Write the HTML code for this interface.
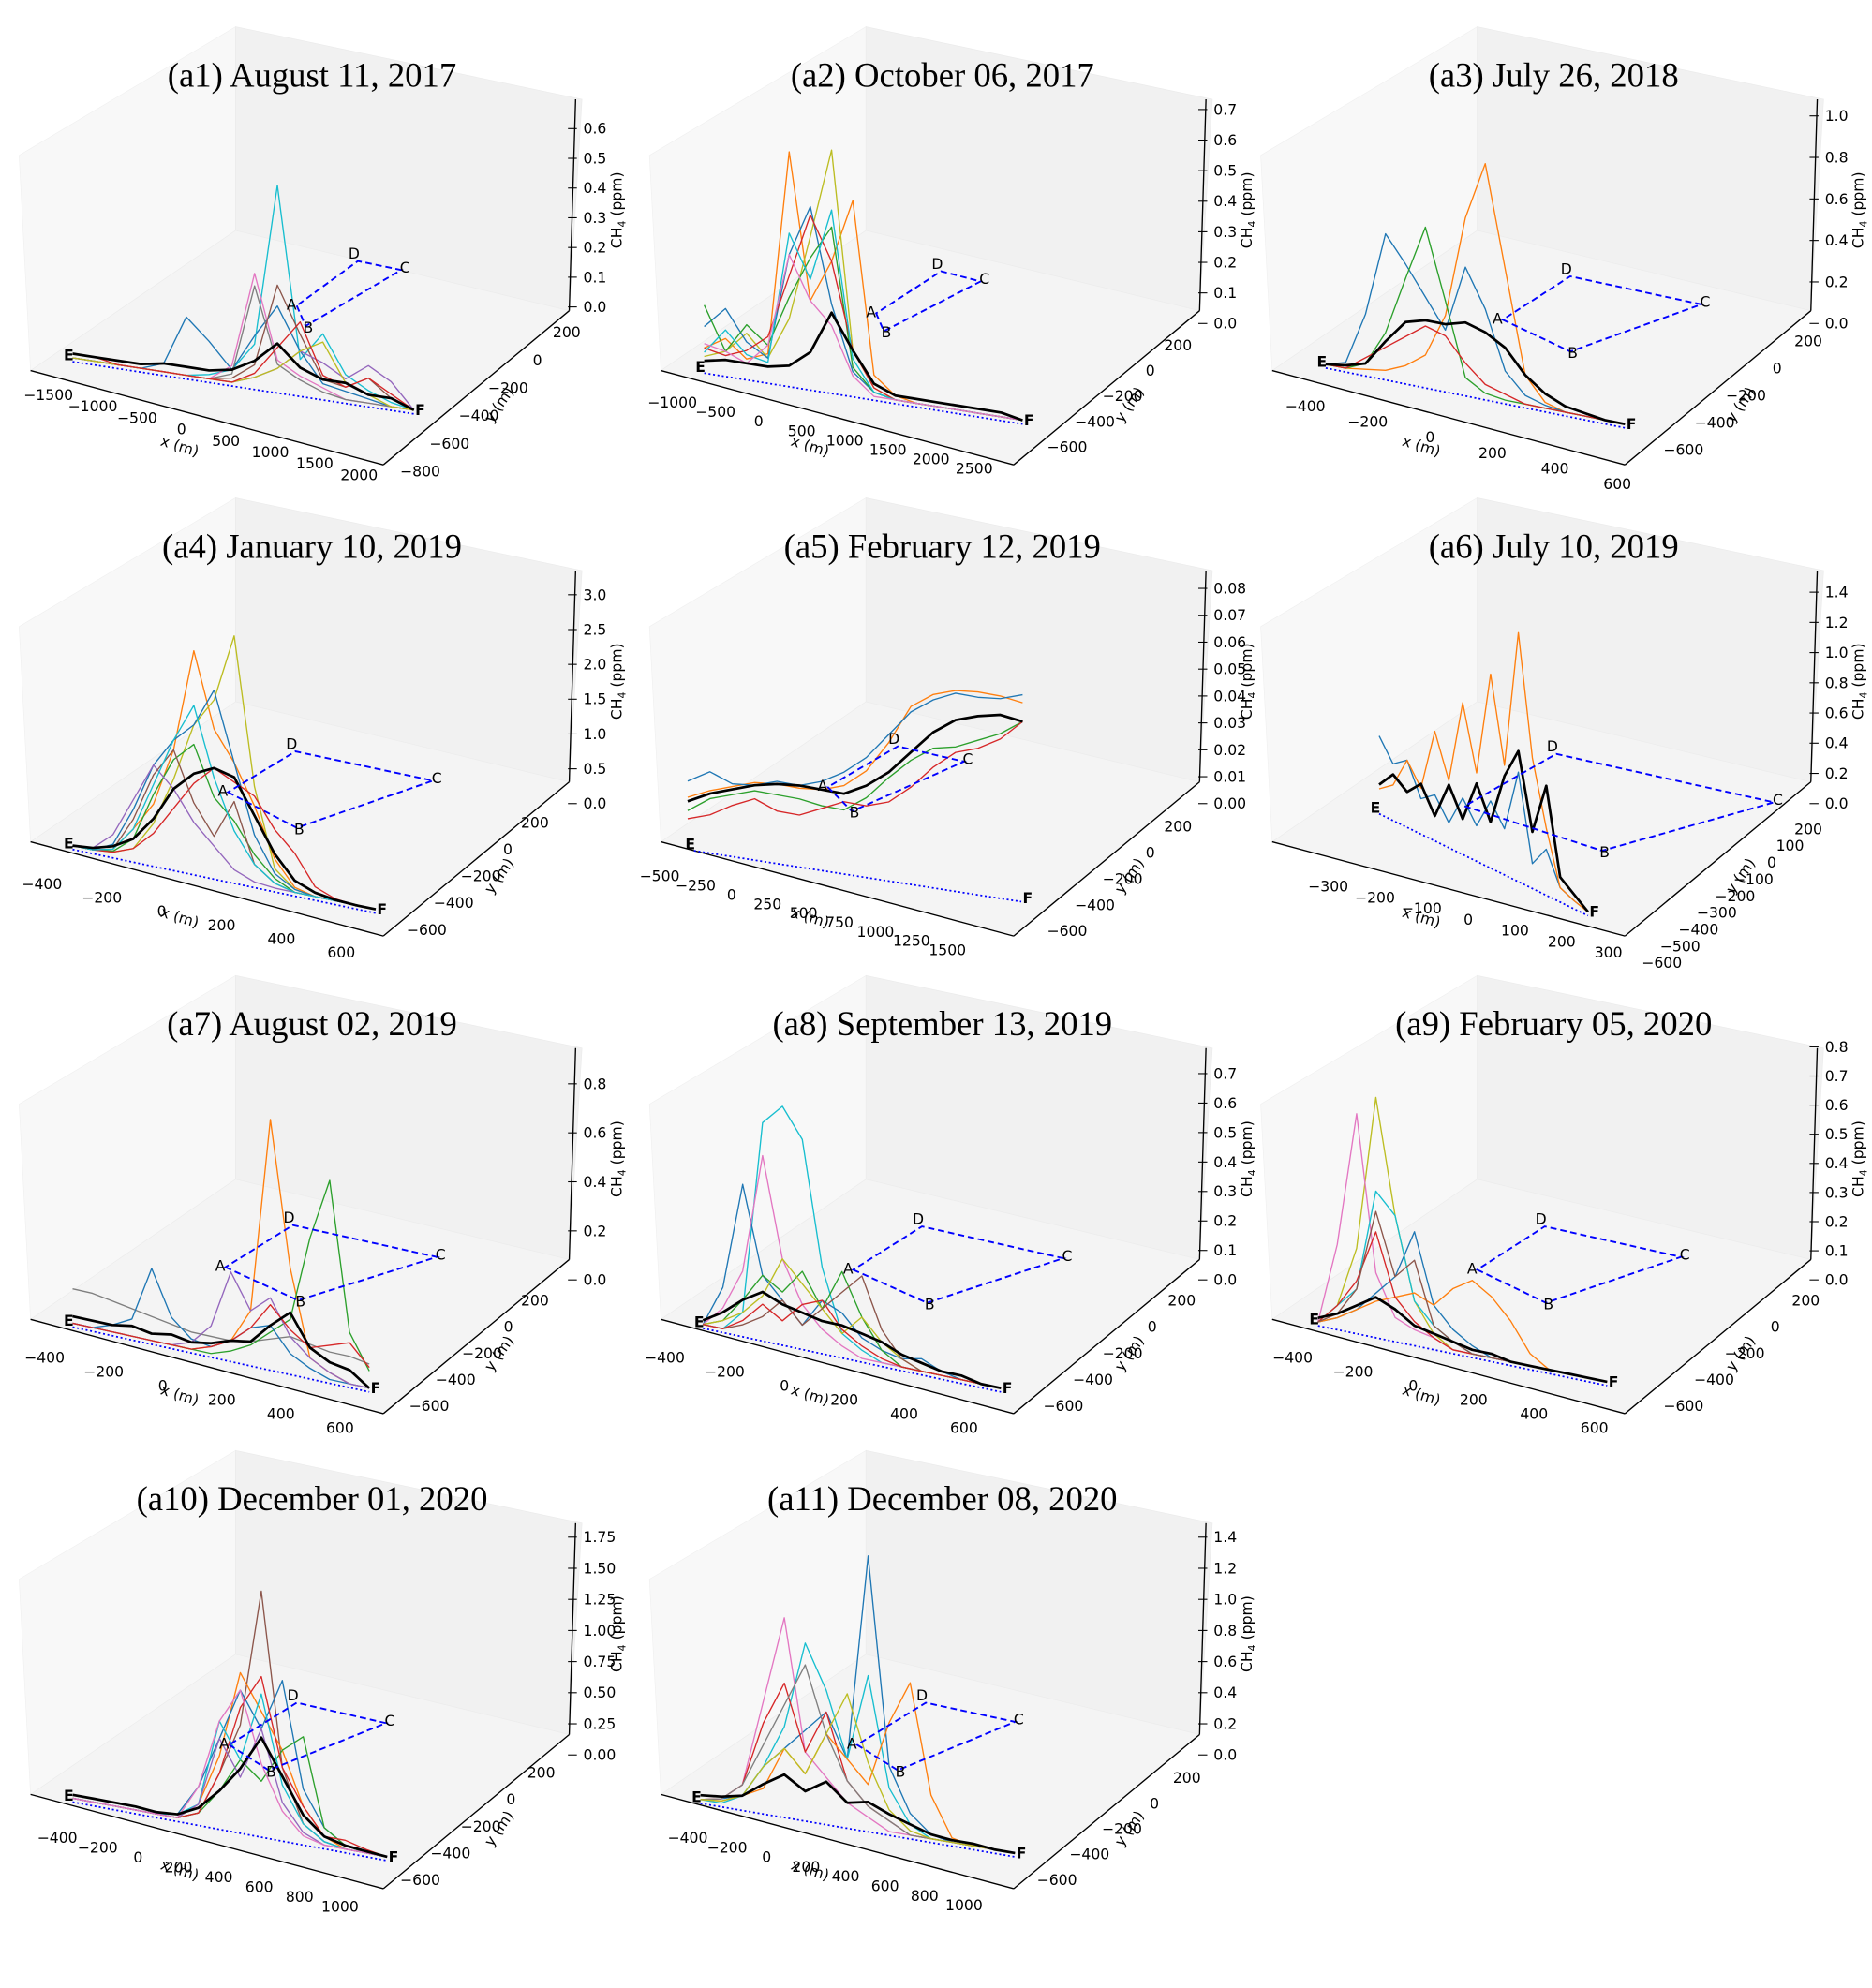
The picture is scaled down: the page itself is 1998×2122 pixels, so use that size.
<!DOCTYPE html>
<html><head><meta charset="utf-8">
<style>
html,body{margin:0;padding:0;background:#fff;}
svg{display:block;}
text{font-family:"DejaVu Sans","Liberation Sans",sans-serif;}
.title{font-family:"Liberation Serif","DejaVu Serif",serif;font-size:27px;fill:#000;}
.tick{font-size:11.5px;fill:#000;}
.lab{font-size:11.5px;fill:#000;}
.pt{font-size:11.5px;fill:#000;}
</style></head>
<body>
<svg id="fig" width="1998" height="2122" viewBox="0 0 1470 1561" preserveAspectRatio="none" xmlns="http://www.w3.org/2000/svg"></svg>
<script>
// ---------- data (CH4 ppm along transect E->F, evenly sampled) ----------
const a1Black=[0.01,0.01,0.01,0.01,0.02,0.02,0.02,0.03,0.06,0.11,0.06,0.04,0.04,0.02,0.02,0];
const a1Cyan=[0,0,0,0,0,0,0.01,0.03,0.1,0.49,0.08,0.15,0.06,0.03,0.01,0];
const a1Blue=[0,0,0,0,0.02,0.14,0.09,0.03,0.12,0.2,0.1,0.03,0.02,0.01,0,0];
const a1Pink=[0,0,0,0,0,0,0,0.04,0.27,0.07,0.04,0.02,0,0,0,0];
const a1Gray=[0,0,0,0,0,0,0,0.02,0.24,0.06,0.03,0.01,0,0,0,0];
const a1Brown=[0,0,0,0,0,0,0,0.01,0.05,0.25,0.14,0.04,0.03,0.06,0.02,0];
const a1Purple=[0,0,0,0,0,0,0,0,0.02,0.05,0.1,0.08,0.05,0.09,0.06,0];
const a1Olive=[0,0,0,0,0,0,0,0,0.02,0.05,0.1,0.13,0.04,0.02,0,0];
const a1Red=[0.01,0.01,0,0,0,0,0,0,0.03,0.1,0.17,0.05,0.03,0.06,0.03,0];

const a2Black=[0.02,0.03,0.03,0.03,0.04,0.08,0.18,0.1,0.03,0.01,0.01,0.01,0.01,0.01,0.01,0];
const a2Orange=[0.05,0.08,0.04,0.06,0.54,0.2,0.3,0.45,0.05,0.01,0,0,0,0,0,0];
const a2Olive=[0.03,0.05,0.1,0.05,0.15,0.35,0.56,0.1,0.02,0,0,0,0,0,0,0];
const a2Blue=[0.1,0.15,0.08,0.05,0.3,0.42,0.2,0.05,0.01,0,0,0,0,0,0,0];
const a2Green=[0.15,0.05,0.12,0.08,0.2,0.3,0.38,0.06,0.01,0,0,0,0,0,0,0];
const a2Red=[0.05,0.04,0.06,0.1,0.25,0.4,0.3,0.1,0.02,0,0,0,0,0,0,0];
const a2Cyan=[0.04,0.1,0.05,0.04,0.35,0.25,0.42,0.08,0.01,0,0,0,0,0,0,0];
const a2Pink=[0.06,0.05,0.03,0.08,0.3,0.2,0.15,0.04,0,0,0,0,0,0,0,0];

const a3Black=[0,0.01,0.03,0.12,0.2,0.22,0.22,0.24,0.22,0.18,0.1,0.05,0.02,0.01,0,0];
const a3Orange=[0,0,0.01,0.02,0.05,0.1,0.25,0.6,0.8,0.45,0.1,0.02,0,0,0,0];
const a3Blue=[0,0.02,0.2,0.49,0.4,0.3,0.2,0.43,0.3,0.1,0.03,0.01,0,0,0,0];
const a3Green=[0,0,0.03,0.15,0.35,0.54,0.3,0.05,0.01,0,0,0,0,0,0,0];
const a3Red=[0,0,0.05,0.1,0.15,0.2,0.18,0.1,0.04,0.02,0,0,0,0,0,0];

const a4Black=[0,0.02,0.08,0.2,0.45,0.8,1.0,1.1,1.05,0.7,0.35,0.12,0.04,0.01,0,0];
const a4Orange=[0,0,0.05,0.3,0.6,1.2,2.26,1.5,1.2,0.8,0.3,0.05,0,0,0,0];
const a4Olive=[0,0,0.02,0.1,0.4,0.9,1.5,1.8,2.5,1.0,0.2,0.03,0,0,0,0];
const a4Blue=[0,0,0.1,0.5,1.0,1.3,1.5,1.9,1.2,0.5,0.15,0.03,0,0,0,0];
const a4Green=[0,0,0.03,0.2,0.7,1.1,1.3,0.8,0.6,0.3,0.1,0,0,0,0,0];
const a4Red=[0,0,0.02,0.1,0.3,0.6,0.9,1.1,1.0,0.9,0.6,0.4,0.1,0.02,0,0];
const a4Purple=[0,0.02,0.2,0.6,1.0,0.8,0.5,0.3,0.1,0.02,0,0,0,0,0,0];
const a4Brown=[0,0,0.05,0.4,0.9,1.2,0.7,0.4,0.8,0.2,0.05,0,0,0,0,0];
const a4Cyan=[0,0,0.05,0.3,0.8,1.3,1.7,1.0,0.5,0.2,0.05,0,0,0,0,0];

const a5Black=[0.0075,0.0099,0.011,0.012,0.012,0.011,0.009,0.007,0.0095,0.014,0.021,0.028,0.032,0.033,0.033,0.030];
const a5Orange=[0.009,0.011,0.012,0.013,0.012,0.010,0.009,0.010,0.015,0.025,0.038,0.042,0.043,0.042,0.040,0.037];
const a5Blue=[0.015,0.018,0.013,0.012,0.013,0.011,0.012,0.015,0.020,0.028,0.036,0.040,0.042,0.040,0.039,0.040];
const a5Green=[0.004,0.008,0.009,0.010,0.008,0.006,0.003,0.001,0.005,0.012,0.018,0.022,0.022,0.024,0.026,0.030];
const a5Red=[0.001,0.002,0.005,0.007,0.002,0.000,0.002,0.004,0.002,0.003,0.008,0.015,0.020,0.021,0.024,0.030];

const a6Black=[0.12,0.2,0.15,0.22,0.1,0.28,0.15,0.35,0.2,0.45,0.6,0.25,0.5,0.1,0.05,0];
const a6Orange=[0.1,0.15,0.3,0.2,0.5,0.3,0.7,0.4,0.9,0.5,1.16,0.6,0.3,0.05,0.02,0];
const a6Blue=[0.35,0.25,0.3,0.15,0.2,0.1,0.25,0.15,0.3,0.2,0.5,0.1,0.2,0.05,0.02,0];

const a7Black=[0.02,0.02,0.02,0.03,0.02,0.03,0.02,0.03,0.05,0.06,0.12,0.17,0.08,0.05,0.04,0];
const a7Orange=[0,0,0,0,0,0,0,0.02,0.05,0.15,0.72,0.3,0.05,0.02,0,0];
const a7Green=[0,0,0,0,0,0,0,0,0.02,0.05,0.1,0.15,0.4,0.58,0.15,0.05];
const a7Blue=[0,0,0.02,0.05,0.21,0.08,0.03,0.02,0.05,0.1,0.12,0.05,0.02,0,0,0];
const a7Gray=[0.1,0.1,0.09,0.08,0.07,0.06,0.05,0.05,0.05,0.06,0.08,0.1,0.09,0.08,0.08,0.07];
const a7Purple=[0,0,0,0,0,0,0.02,0.08,0.25,0.15,0.2,0.1,0.05,0.02,0,0];
const a7Red=[0,0,0,0,0,0,0,0.02,0.05,0.1,0.18,0.12,0.08,0.1,0.12,0.06];

const a8Black=[0.01,0.04,0.08,0.11,0.09,0.08,0.07,0.07,0.06,0.05,0.03,0.02,0.01,0.01,0,0];
const a8Cyan=[0,0,0.05,0.52,0.57,0.5,0.2,0.05,0.02,0,0,0,0,0,0,0];
const a8Blue=[0,0.1,0.36,0.15,0.1,0.05,0.12,0.1,0.05,0.03,0.02,0.03,0.01,0,0,0];
const a8Pink=[0,0.05,0.15,0.44,0.2,0.1,0.05,0.02,0,0,0,0,0,0,0,0];
const a8Green=[0,0.02,0.08,0.15,0.12,0.18,0.1,0.2,0.1,0.03,0,0,0,0,0,0];
const a8Olive=[0,0.02,0.05,0.1,0.2,0.15,0.1,0.05,0.1,0.05,0.02,0,0,0,0,0];
const a8Brown=[0,0,0.02,0.05,0.1,0.05,0.1,0.15,0.2,0.08,0.02,0,0,0,0,0];
const a8Red=[0,0,0.03,0.08,0.05,0.1,0.12,0.06,0.03,0.01,0,0,0,0,0,0];

const a9Black=[0.01,0.03,0.06,0.09,0.07,0.04,0.03,0.02,0.01,0.01,0,0,0,0,0,0];
const a9Olive=[0,0.05,0.2,0.58,0.3,0.1,0.03,0,0,0,0,0,0,0,0,0];
const a9Pink=[0,0.2,0.53,0.15,0.05,0.03,0.02,0,0,0,0,0,0,0,0,0];
const a9Cyan=[0,0.05,0.1,0.35,0.3,0.1,0.05,0.02,0,0,0,0,0,0,0,0];
const a9Blue=[0,0.02,0.05,0.1,0.15,0.27,0.1,0.05,0.02,0,0,0,0,0,0,0];
const a9Orange=[0,0.02,0.05,0.08,0.1,0.12,0.1,0.15,0.18,0.15,0.1,0.03,0,0,0,0];
const a9Red=[0,0.05,0.12,0.25,0.1,0.05,0.02,0,0,0,0,0,0,0,0,0];
const a9Brown=[0,0.03,0.1,0.3,0.15,0.2,0.05,0.02,0,0,0,0,0,0,0,0];

const a10Black=[0.02,0.02,0.02,0.02,0.01,0.02,0.08,0.2,0.35,0.55,0.35,0.15,0.05,0.02,0.01,0];
const a10Brown=[0,0,0,0,0,0,0.05,0.3,0.6,1.39,0.4,0.1,0.02,0,0,0];
const a10Orange=[0,0,0,0,0,0,0.1,0.4,0.9,0.7,0.5,0.2,0.05,0,0,0];
const a10Blue=[0,0,0,0,0,0.02,0.2,0.5,0.8,0.6,0.9,0.3,0.1,0.02,0,0];
const a10Green=[0,0,0,0,0,0,0.05,0.2,0.4,0.3,0.5,0.6,0.1,0.02,0,0];
const a10Red=[0,0,0,0,0,0,0.05,0.3,0.7,0.9,0.4,0.2,0.05,0.05,0.02,0];
const a10Cyan=[0,0,0,0,0,0.02,0.1,0.6,0.4,0.8,0.3,0.1,0.02,0,0,0];
const a10Purple=[0,0,0,0,0,0,0.1,0.5,0.3,0.6,0.2,0.05,0,0,0,0];
const a10Pink=[0,0,0,0,0,0,0.2,0.6,0.8,0.4,0.15,0.03,0,0,0,0];

const a11Black=[0.02,0.03,0.05,0.12,0.18,0.12,0.18,0.1,0.12,0.08,0.05,0.02,0.01,0.01,0,0];
const a11Blue=[0,0.02,0.05,0.2,0.3,0.4,0.5,0.3,1.25,0.3,0.1,0.02,0,0,0,0];
const a11Pink=[0,0.02,0.1,0.5,0.9,0.3,0.2,0.1,0.05,0,0,0,0,0,0,0];
const a11Cyan=[0,0,0.05,0.2,0.4,0.8,0.6,0.3,0.7,0.2,0.05,0,0,0,0,0];
const a11Red=[0,0.02,0.1,0.4,0.6,0.3,0.5,0.2,0.1,0.05,0,0,0,0,0,0];
const a11Orange=[0,0.01,0.05,0.1,0.3,0.2,0.4,0.3,0.2,0.5,0.7,0.2,0.02,0,0,0];
const a11Gray=[0,0.02,0.1,0.3,0.5,0.7,0.4,0.2,0.1,0.05,0,0,0,0,0,0];
const a11Olive=[0,0.01,0.05,0.2,0.3,0.2,0.4,0.6,0.3,0.1,0.02,0,0,0,0,0];

// tick label arrays
const zT1=["0.0","0.1","0.2","0.3","0.4","0.5","0.6"];
const zT2=["0.0","0.1","0.2","0.3","0.4","0.5","0.6","0.7"];
const zT3=["0.0","0.2","0.4","0.6","0.8","1.0"];
const zT4=["0.0","0.5","1.0","1.5","2.0","2.5","3.0"];
const zT5=["0.00","0.01","0.02","0.03","0.04","0.05","0.06","0.07","0.08"];
const zT6=["0.0","0.2","0.4","0.6","0.8","1.0","1.2","1.4"];
const zT7=["0.0","0.2","0.4","0.6","0.8"];
const zT9=["0.0","0.1","0.2","0.3","0.4","0.5","0.6","0.7","0.8"];
const zT10=["0.00","0.25","0.50","0.75","1.00","1.25","1.50","1.75"];
const xT1=["\u22121500","\u22121000","\u2212500","0","500","1000","1500","2000"];
const xT2=["\u22121000","\u2212500","0","500","1000","1500","2000","2500"];
const xT3=["\u2212400","\u2212200","0","200","400","600"];
const xT5=["\u2212500","\u2212250","0","250","500","750","1000","1250","1500"];
const xT6=["\u2212300","\u2212200","\u2212100","0","100","200","300"];
const xT10=["\u2212400","\u2212200","0","200","400","600","800","1000"];
const yT1=["200","0","\u2212200","\u2212400","\u2212600","\u2212800"];
const yT2=["200","0","\u2212200","\u2212400","\u2212600"];
const yT6=["200","100","0","\u2212100","\u2212200","\u2212300","\u2212400","\u2212500","\u2212600"];

const C={blue:"#1f77b4",orange:"#ff7f0e",green:"#2ca02c",red:"#d62728",purple:"#9467bd",brown:"#8c564b",pink:"#e377c2",gray:"#7f7f7f",olive:"#bcbd22",cyan:"#17becf"};

const panels=[
 {id:"a1",ox:0,oy:0,title:"(a1) August 11, 2017",E:[57,281],F:[325,322],z:zT1,z0:241,zTop:101,x:xT1,xA:[38,314],xB:[282,377],y:yT1,yA:[445,265],yB:[330,374],
  A:[233,240],B:[240,256],C:[315,212],D:[281,205],
  s:[["cyan",a1Cyan],["blue",a1Blue],["pink",a1Pink],["gray",a1Gray],["brown",a1Brown],["purple",a1Purple],["olive",a1Olive],["red",a1Red]],k:a1Black},
 {id:"a2",ox:495,oy:0,title:"(a2) October 06, 2017",E:[553,290],F:[803,330],z:zT2,z0:254,zTop:86,x:xT2,xA:[528,320],xB:[765,372],y:yT2,yA:[925,275],yB:[838,355],
  A:[688,246],B:[694,260],C:[770,221],D:[739,213],
  s:[["orange",a2Orange],["olive",a2Olive],["blue",a2Blue],["green",a2Green],["red",a2Red],["cyan",a2Cyan],["pink",a2Pink]],k:a2Black},
 {id:"a3",ox:975,oy:0,title:"(a3) July 26, 2018",E:[1041,286],F:[1276,333],z:zT3,z0:254,zTop:91,x:xT3,xA:[1025,323],xB:[1270,384],y:yT2,yA:[1420,272],yB:[1322,357],
  A:[1180,251],B:[1233,276],C:[1336,239],D:[1233,217],
  s:[["orange",a3Orange],["blue",a3Blue],["green",a3Green],["red",a3Red]],k:a3Black},
 {id:"a4",ox:0,oy:370,title:"(a4) January 10, 2019",E:[57,664],F:[295,714],z:zT4,z0:631,zTop:467,x:xT3,xA:[33,698],xB:[268,752],y:yT2,yA:[420,650],yB:[335,734],
  A:[179,622],B:[233,650],C:[340,613],D:[232,590],
  s:[["orange",a4Orange],["olive",a4Olive],["blue",a4Blue],["green",a4Green],["red",a4Red],["purple",a4Purple],["brown",a4Brown],["cyan",a4Cyan]],k:a4Black},
 {id:"a5",ox:495,oy:370,title:"(a5) February 12, 2019",E:[545,665],F:[802,705],T0:[540,645],T1:[803,630],noPersp:true,z:zT5,z0:631,zTop:462,x:xT5,xA:[518,692],xB:[744,750],y:yT2,yA:[925,653],yB:[838,735],
  A:[650,618],B:[669,637],C:[757,598],D:[705,586],
  s:[["orange",a5Orange],["blue",a5Blue],["green",a5Green],["red",a5Red]],k:a5Black},
 {id:"a6",ox:975,oy:370,title:"(a6) July 10, 2019",E:[1083,636],F:[1247,716],z:zT6,z0:631,zTop:465,x:xT6,xA:[1043,700],xB:[1263,752],y:yT6,yA:[1420,655],yB:[1305,760],
  A:[1150,633],B:[1258,668],C:[1393,630],D:[1222,592],noA:true,
  s:[["blue",a6Blue],["orange",a6Orange]],k:a6Black},
 {id:"a7",ox:0,oy:745,title:"(a7) August 02, 2019",E:[57,1039],F:[290,1090],z:zT7,z0:1005,zTop:851,x:xT3,xA:[35,1070],xB:[267,1125],y:yT2,yA:[420,1025],yB:[337,1108],
  A:[177,995],B:[234,1021],C:[343,987],D:[230,962],
  s:[["gray",a7Gray],["orange",a7Orange],["green",a7Green],["blue",a7Blue],["purple",a7Purple],["red",a7Red]],k:a7Black},
 {id:"a8",ox:495,oy:745,title:"(a8) September 13, 2019",E:[552,1040],F:[786,1090],z:zT2,z0:1005,zTop:843,x:xT3,xA:[522,1070],xB:[757,1125],y:yT2,yA:[928,1025],yB:[835,1108],
  A:[670,997],B:[728,1023],C:[835,988],D:[724,963],
  s:[["cyan",a8Cyan],["blue",a8Blue],["pink",a8Pink],["green",a8Green],["olive",a8Olive],["brown",a8Brown],["red",a8Red]],k:a8Black},
 {id:"a9",ox:975,oy:745,title:"(a9) February 05, 2020",E:[1035,1038],F:[1262,1085],z:zT9,z0:1005,zTop:822,x:xT3,xA:[1015,1070],xB:[1252,1125],y:yT2,yA:[1418,1025],yB:[1322,1108],
  A:[1160,997],B:[1214,1023],C:[1320,987],D:[1213,963],
  s:[["olive",a9Olive],["pink",a9Pink],["cyan",a9Cyan],["blue",a9Blue],["orange",a9Orange],["red",a9Red],["brown",a9Brown]],k:a9Black},
 {id:"a10",ox:0,oy:1118,title:"(a10) December 01, 2020",E:[57,1412],F:[304,1458],z:zT10,z0:1378,zTop:1207,x:xT10,xA:[45,1447],xB:[267,1501],y:yT2,yA:[425,1396],yB:[330,1480],
  A:[180,1370],B:[211,1390],C:[303,1353],D:[233,1337],
  s:[["brown",a10Brown],["orange",a10Orange],["blue",a10Blue],["green",a10Green],["red",a10Red],["cyan",a10Cyan],["purple",a10Purple],["pink",a10Pink]],k:a10Black},
 {id:"a11",ox:495,oy:1118,title:"(a11) December 08, 2020",E:[550,1413],F:[797,1455],z:zT6,z0:1378,zTop:1207,x:xT10,xA:[540,1447],xB:[757,1500],y:yT2,yA:[932,1400],yB:[830,1480],
  A:[673,1370],B:[705,1390],C:[797,1352],D:[727,1337],
  s:[["blue",a11Blue],["pink",a11Pink],["cyan",a11Cyan],["red",a11Red],["orange",a11Orange],["gray",a11Gray],["olive",a11Olive]],k:a11Black}
];

const NS="http://www.w3.org/2000/svg";
const svg=document.getElementById('fig');
function mk(tag,attrs,parent,txt){const e=document.createElementNS(NS,tag);for(const k in attrs)e.setAttribute(k,attrs[k]);if(txt!==undefined)e.textContent=txt;parent.appendChild(e);return e;}
const PERSP=1.4;

panels.forEach(p=>{
  const g=mk('g',{},svg);
  
  
  const o=(x,y)=>[p.ox+x,p.oy+y];
  const P=a=>a.map(q=>q.join(',')).join(' ');
  const lp=mk('polygon',{points:P([o(15,122),o(185,21),o(185,181),o(24,291)]),fill:"#f8f8f8",stroke:"#f0f0f0","stroke-width":0.5},g);
  
  
  const rp=mk('polygon',{points:P([o(185,21),o(457,78),o(447,244),o(185,181)]),fill:"#f1f1f1",stroke:"#ebebeb","stroke-width":0.5},g);
  
  
  const fp=mk('polygon',{points:P([o(24,291),o(185,181),o(447,244),o(301,365)]),fill:"#f4f4f4",stroke:"#ececec","stroke-width":0.5},g);
  
  
  const xl=mk('line',{x1:o(24,291)[0],y1:o(24,291)[1],x2:o(301,365)[0],y2:o(301,365)[1],stroke:"#000","stroke-width":1},g);
  
  
  const yl=mk('line',{x1:o(301,365)[0],y1:o(301,365)[1],x2:o(447,244)[0],y2:o(447,244)[1],stroke:"#000","stroke-width":1},g);
  
  
  const zx=p.ox+450;
  const zl=mk('line',{x1:p.ox+452,y1:p.oy+78,x2:p.ox+447,y2:p.oy+244,stroke:"#000","stroke-width":1},g);
  
  
  const zmax=parseFloat(p.z[p.z.length-1]);
  const scale=(p.z0-p.zTop)/zmax;
  p.z.forEach((lab,i)=>{
    const v=parseFloat(lab);
    const y=p.z0-v*scale;
    mk('line',{x1:zx-4,y1:y,x2:zx+3,y2:y,stroke:"#000","stroke-width":0.8},g);
    const t=mk('text',{x:zx+8,y:y+4,class:"tick"},g,lab);
    
    
  });
  p.x.forEach((lab,i)=>{
    const f=i/(p.x.length-1);
    const x=p.xA[0]+f*(p.xB[0]-p.xA[0]), y=p.xA[1]+f*(p.xB[1]-p.xA[1]);
    const t=mk('text',{x:x,y:y,class:"tick","text-anchor":"middle"},g,lab);
    
    
  });
  p.y.forEach((lab,i)=>{
    const f=i/(p.y.length-1);
    const x=p.yA[0]+f*(p.yB[0]-p.yA[0]), y=p.yA[1]+f*(p.yB[1]-p.yA[1]);
    const t=mk('text',{x:x,y:y,class:"tick","text-anchor":"middle"},g,lab);
    
    
  });
  const xt=mk('text',{x:0,y:0,class:"lab","text-anchor":"middle",transform:`translate(${p.ox+140},${p.oy+354}) rotate(17)`},g,"x (m)");
  
  
  const yt=mk('text',{x:0,y:0,class:"lab","text-anchor":"middle",transform:`translate(${p.ox+395},${p.oy+320}) rotate(-55)`},g,"y (m)");
  
  
  const zt=mk('text',{x:0,y:0,class:"lab","text-anchor":"middle",transform:`translate(${p.ox+488},${p.oy+165}) rotate(-90)`},g);
  
  
  zt.appendChild(document.createTextNode("CH"));
  mk('tspan',{"font-size":"8px",dy:"3"},zt,"4");
  mk('tspan',{dy:"-3"},zt," (ppm)");
  const tt=mk('text',{x:p.ox+245,y:p.oy+68,class:"title","text-anchor":"middle"},g,p.title);
  
  
  const bl=mk('line',{x1:p.E[0],y1:p.E[1]+3,x2:p.F[0],y2:p.F[1]+3,stroke:"#0000ff","stroke-width":1.3,"stroke-dasharray":"1.5 2"},g);
  
  
  const T0=p.T0||p.E, T1=p.T1||p.F;
  const per=p.noPersp?1:PERSP;
  const px=(i,n)=>T0[0]+(i/(n-1))*(T1[0]-T0[0]);
  const py=(i,n,v)=>T0[1]+(i/(n-1))*(T1[1]-T0[1])-v*scale*per;
  const pathOf=vals=>vals.map((v,i)=>(i?'L':'M')+px(i,vals.length).toFixed(1)+','+py(i,vals.length,v).toFixed(1)).join(' ');
  p.s.forEach(([c,vals])=>{
    const pl=mk('path',{d:pathOf(vals),fill:"none",stroke:C[c],"stroke-width":1,"stroke-linejoin":"round"},g);
    
    
  });
  const kl=mk('path',{d:pathOf(p.k),fill:"none",stroke:"#000","stroke-width":2,"stroke-linejoin":"round"},g);
  
  
  const q=mk('polygon',{points:P([p.A,p.B,p.C,p.D]),fill:"none",stroke:"#0000ff","stroke-width":1.4,"stroke-dasharray":"5 3"},g);
  
  
  [["A",p.A,-4,3],["B",p.B,2,5],["C",p.C,3,2],["D",p.D,-3,-2]].forEach(([n,pt,dx,dy])=>{
    if(n==="A"&&p.noA) return;
    const t=mk('text',{x:pt[0]+dx,y:pt[1]+dy,class:"pt","text-anchor":"middle"},g,n);
    
    
  });
  const e=mk('text',{x:p.E[0]-3,y:p.E[1]+2,class:"pt","font-weight":"bold","text-anchor":"middle"},g,"E");
  
  
  const f=mk('text',{x:p.F[0]+5,y:p.F[1]+4,class:"pt","font-weight":"bold","text-anchor":"middle"},g,"F");
  
  
});
</script>
</body></html>
